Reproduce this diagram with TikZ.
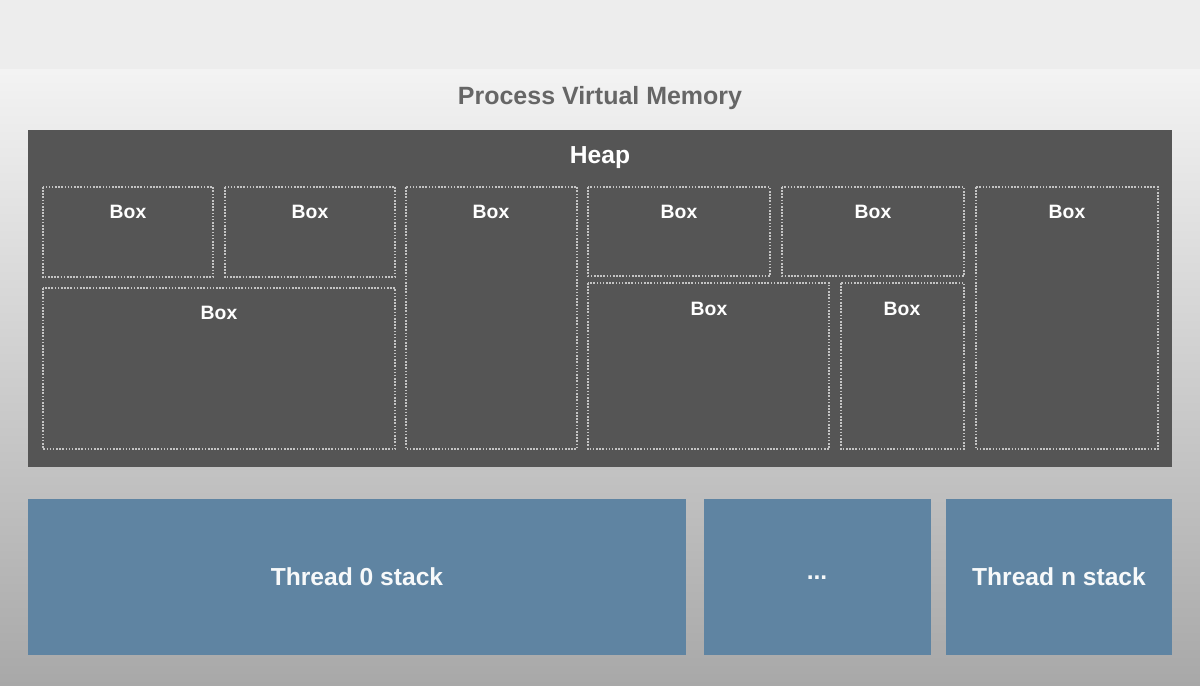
\documentclass[tikz,border=0pt]{standalone}
\usepackage{fontspec}
\setmainfont{Liberation Sans}
\definecolor{heapgray}{HTML}{555555}
\definecolor{stackblue}{HTML}{5F84A2}
\definecolor{titlegray}{HTML}{666666}
\definecolor{dotgray}{HTML}{C4C4C4}
\tikzset{
  heapbox/.style={draw=dotgray, line width=0.45pt, dash pattern=on 0.45pt off 0.45pt},
  boxlabel/.style={text=white, font=\bfseries\fontsize{5.5pt}{6pt}\selectfont, inner sep=0pt},
  stackbox/.style={fill=stackblue, text=white!95!stackblue, font=\bfseries\fontsize{7pt}{8pt}\selectfont},
}
\begin{document}
\begin{tikzpicture}[x=0.01cm, y=-0.01cm]
		\useasboundingbox (0,0) rectangle (1200,686);
		% background
		\fill[fill={rgb,255:red,237;green,237;blue,237}] (0,0) rectangle (1200,70);
		\shade[top color={rgb,255:red,243;green,243;blue,243}, bottom color={rgb,255:red,168;green,168;blue,168}] (0,70) rectangle (1200,686);
		\node[text=titlegray, font=\bfseries\fontsize{7.1pt}{8pt}\selectfont] (title) at (600,98) {Process Virtual Memory};
		% heap
		\fill[heapgray] (28,130) rectangle (1172,467);
		\node[text=white, font=\bfseries\fontsize{7pt}{8pt}\selectfont] (heap) at (600,158) {Heap};
		\foreach \name/\xa/\ya/\xb/\yb/\lx/\ly in {
				a/43/187/213/277/128/212,
				b/225/187/395/277/310/212,
				c/43/288/395/449/219/313,
				d/406/187/577/449/491/212,
				e/588/187/770/276/679/212,
				f/782/187/964/276/873/212,
				g/588/283/829/449/709/309,
				h/841/283/964/449/902/309,
				i/976/187/1158/449/1067/212}
		{
			\draw[heapbox] (\xa,\ya) rectangle (\xb,\yb);
			\node[boxlabel] (box\name) at (\lx,\ly) {Box};
		}
		% thread stacks
		\fill[stackblue] (28,499) rectangle (686,655);
		\fill[stackblue] (704,499) rectangle (931,655);
		\fill[stackblue] (946,499) rectangle (1172,655);
		\node[stackbox] (stack0) at (357,577) {Thread 0 stack};
		\node[stackbox] (dots) at (817,578) {...};
		\node[stackbox] (stackn) at (1059,577) {Thread n stack};
	\end{tikzpicture}
\end{document}
